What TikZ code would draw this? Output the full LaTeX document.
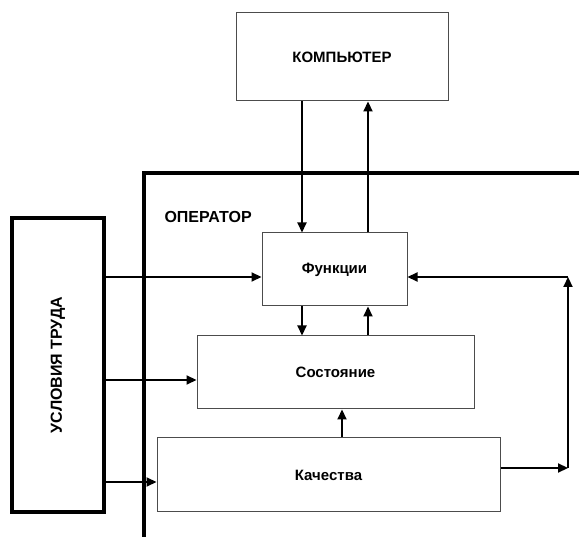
\documentclass[tikz,border=0pt]{standalone}
\usepackage{fontspec}
\setmainfont{Liberation Sans}
\usetikzlibrary{positioning, arrows.meta, calc}

\begin{document}
\begin{tikzpicture}[
        x=1pt, y=-1pt,
        box/.style={draw=black!70, line width=1pt, minimum width=#1, font=\fontsize{15}{17}\selectfont\bfseries, align=center},
        thickbox/.style={draw=black, line width=3.2pt, minimum width=92pt, minimum height=294pt},
        arr/.style={-{Triangle[length=10pt, width=9pt]}, line width=2.2pt},
        frame/.style={line width=3.2pt},
        lbl/.style={font=\fontsize{16}{18}\selectfont\bfseries},
    ]
    \useasboundingbox (0,0) rectangle (579,537);

    % ---- BLOCKS ----
    \node[box=212pt, minimum height=88pt] (comp) at (342,57) {КОМПЬЮТЕР};
    \node[box=145pt, minimum height=73pt] (func) at (334.5,269.5) {Функции};
    \node[box=277pt, minimum height=73pt] (state) at (335.5,372.5) {Состояние};
    \node[box=343pt, minimum height=74pt] (qual) at (328.5,475) {Качества};
    \node[thickbox] (cond) at (58,365) {};
    \node[lbl, rotate=90] (cond-text) at (cond) {УСЛОВИЯ ТРУДА};

    % ---- OPERATOR ----
    \draw[frame] (579,173) -| (144,537);
    \node[lbl, anchor=west] (oper) at (161,217) {ОПЕРАТОР};

    % helper coordinates
    \coordinate (xl) at (302,0);
    \coordinate (xr) at (368,0);
    \coordinate (xm) at (342,0);
    \coordinate (loop-t) at (568,277);
    \coordinate (loop-b) at (568,468);

    % ---- ARROWS (computer) ----
    \draw[arr] (comp.south -| xl) -- (func.north -| xl);
    \draw[arr] (func.north -| xr) -- (comp.south -| xr);

    % ---- ARROWS (inside operator) ----
    \draw[arr] (func.south -| xl) -- (state.north -| xl);
    \draw[arr] (state.north -| xr) -- (func.south -| xr);
    \draw[arr] (qual.north -| xm) -- (state.south -| xm);

    % ---- ARROWS (conditions) ----
    \draw[arr] (cond.east |- 0,277) -- (func.west |- 0,277);
    \draw[arr] (cond.east |- 0,380) -- (state.west |- 0,380);
    \draw[arr] (cond.east |- 0,482) -- (qual.west |- 0,482);

    % ---- FEEDBACK LOOP ----
    \draw[arr] (qual.east |- loop-b) -- (loop-b);
    \draw[arr] (loop-b) -- (loop-t);
    \draw[arr] (loop-t) -- (func.east |- loop-t);

\end{tikzpicture}
\end{document}
